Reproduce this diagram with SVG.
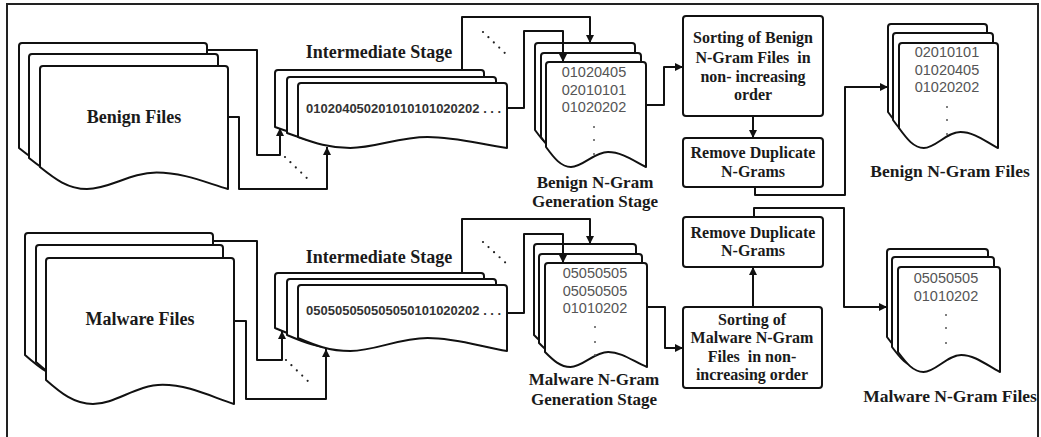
<svg xmlns="http://www.w3.org/2000/svg" width="1041" height="437" viewBox="0 0 1041 437">
  <style>
    .doc { fill: #fff; stroke: #111; stroke-width: 2; stroke-linejoin: round; }
    .box { fill: #fff; stroke: #111; stroke-width: 2; }
    .wire { fill: none; stroke: #111; stroke-width: 2; stroke-linejoin: round; }
    .dots { fill: none; stroke: #222; stroke-width: 2.2; stroke-linecap: round; stroke-dasharray: 0 7.5; }
    .lbl { font-family: "Liberation Serif", "Times New Roman", serif; font-weight: bold; fill: #1a1a1a; text-anchor: middle; white-space: pre; }
    .seq { font-family: "Liberation Sans", Arial, sans-serif; font-weight: bold; font-size: 13px; fill: #333; }
    .gram { font-family: "Liberation Sans", Arial, sans-serif; font-size: 14.5px; fill: #555; text-anchor: middle; }
    .pt { fill: #555; }
  </style>
  <defs>
    <marker id="arrow" viewBox="0 0 10 10" refX="10" refY="5" markerWidth="9" markerHeight="8" markerUnits="userSpaceOnUse" orient="auto">
      <path d="M0,0 L10,5 L0,10 Z" fill="#111"/>
    </marker>
  </defs>

  <!-- frame -->
  <rect x="7" y="4" width="1031" height="450" fill="#fff" stroke="#222" stroke-width="2"/>

  <!-- ===== benign branch ===== -->
  <g id="benign-files">
    <path class="doc" d="M19,46 Q19,43 22,43 H204 Q207,43 207,46 V170 C184.4,163.4 161.9,153.5 135.6,153.5 C109.2,153.5 88.6,170 66,170 C47.2,170 34,160.1 19,148 Z"/>
    <path class="doc" d="M29,57 Q29,54 32,54 H215 Q218,54 218,57 V180 C195.3,173.4 172.6,163.5 146.2,163.5 C119.7,163.5 98.9,180 76.3,180 C57.4,180 44.1,170.1 29,158 Z"/>
    <path class="doc" d="M40,69 Q40,66 43,66 H225 Q228,66 228,69 V189 C205.4,182.4 182.9,172.5 156.6,172.5 C130.2,172.5 109.6,189 87,189 C68.2,189 55,179.1 40,167 Z"/>
    <text class="lbl" x="134" y="123" font-size="18">Benign Files</text>
  </g>

  <g id="benign-intermediate">
    <path class="doc" d="M275,73 Q275,70 278,70 H481 Q484,70 484,73 V138 C458.9,134.7 433.8,127 404.6,127 C375.3,127 352.3,138 327.3,138 C306.4,138 291.7,133 275,127 Z"/>
    <path class="doc" d="M287,80 Q287,77 290,77 H493 Q496,77 496,80 V144 C470.9,140.7 445.8,133 416.6,133 C387.3,133 364.3,144 339.3,144 C318.4,144 303.7,139 287,133 Z"/>
    <path class="doc" d="M298,86 Q298,83 301,83 H504 Q507,83 507,86 V148 C481.9,144.7 456.8,137 427.6,137 C398.3,137 375.3,148 350.3,148 C329.4,148 314.7,143 298,137 Z"/>
    <text class="seq" x="306" y="113">010204050201010101020202 . . .</text>
    <text class="lbl" x="379" y="58" font-size="18">Intermediate Stage</text>
  </g>

  <g id="benign-ngram-stage">
    <path class="doc" d="M535,46 Q535,43 538,43 H632 Q635,43 635,46 V150 C623,144 611,135 597,135 C583,135 572,150 560,150 C550,150 543,141 535,130 Z"/>
    <path class="doc" d="M541,56 Q541,53 544,53 H638 Q641,53 641,56 V157 C629,151 617,142 603,142 C589,142 578,157 566,157 C556,157 549,148 541,137 Z"/>
    <path class="doc" d="M546,65 Q546,62 549,62 H643 Q646,62 646,65 V167 C634,161 622,152 608,152 C594,152 583,167 571,167 C561,167 554,158 546,147 Z"/>
    <text class="gram" x="594" y="77">01020405</text>
    <text class="gram" x="594" y="95">02010101</text>
    <text class="gram" x="594" y="112">01020202</text>
    <circle class="pt" cx="594" cy="127" r="1"/>
    <circle class="pt" cx="594" cy="140" r="1"/>
    <circle class="pt" cx="594" cy="154" r="1"/>
    <text class="lbl" x="595" y="188" font-size="17">Benign N-Gram</text>
    <text class="lbl" x="595" y="207" font-size="17">Generation Stage</text>
  </g>

  <g id="benign-sort">
    <rect class="box" x="683" y="16" width="140" height="100" rx="3"/>
    <text class="lbl" x="753" y="43" font-size="16">Sorting of Benign</text>
    <text class="lbl" x="753" y="62.5" font-size="16">N-Gram Files  in</text>
    <text class="lbl" x="753" y="81.5" font-size="16">non- increasing</text>
    <text class="lbl" x="753" y="100" font-size="16">order</text>
  </g>

  <g id="benign-dedup">
    <rect class="box" x="683" y="138" width="140" height="49" rx="3"/>
    <text class="lbl" x="753" y="158" font-size="16">Remove Duplicate</text>
    <text class="lbl" x="753" y="177" font-size="16">N-Grams</text>
  </g>

  <g id="benign-ngram-files">
    <path class="doc" d="M888,27 Q888,24 891,24 H984 Q987,24 987,27 V132 C975.1,126 963.2,116 949.4,116 C935.5,116 924.6,132 912.8,132 C902.9,132 895.9,123 888,112 Z"/>
    <path class="doc" d="M893,36 Q893,33 896,33 H990 Q993,33 993,36 V140 C981,134 969,124 955,124 C941,124 930,140 918,140 C908,140 901,131 893,120 Z"/>
    <path class="doc" d="M899,46 Q899,43 902,43 H995 Q998,43 998,46 V148 C986.1,142 974.2,132 960.4,132 C946.5,132 935.6,148 923.8,148 C913.9,148 906.9,139 899,128 Z"/>
    <text class="gram" x="947" y="57">02010101</text>
    <text class="gram" x="947" y="75">01020405</text>
    <text class="gram" x="947" y="92">01020202</text>
    <circle class="pt" cx="947" cy="107" r="1"/>
    <circle class="pt" cx="947" cy="120" r="1"/>
    <circle class="pt" cx="947" cy="134" r="1"/>
    <text class="lbl" x="950" y="177" font-size="17.5">Benign N-Gram Files</text>
  </g>

  <!-- ===== malware branch ===== -->
  <g id="malware-files">
    <path class="doc" d="M25,236 Q25,233 28,233 H210 Q213,233 213,236 V379 C190.4,371.8 167.9,359.8 141.6,359.8 C115.2,359.8 94.6,379 72,379 C53.2,379 40,368.2 25,355 Z"/>
    <path class="doc" d="M36,248 Q36,245 39,245 H220 Q223,245 223,248 V386 C200.6,378.8 178.1,366.8 151.9,366.8 C125.8,366.8 105.2,386 82.8,386 C64.1,386 51,375.2 36,362 Z"/>
    <path class="doc" d="M46,261 Q46,258 49,258 H231 Q234,258 234,261 V404 C211.4,396.8 188.9,384.8 162.6,384.8 C136.2,384.8 115.6,404 93,404 C74.2,404 61,393.2 46,380 Z"/>
    <text class="lbl" x="140" y="325" font-size="18">Malware Files</text>
  </g>

  <g id="malware-intermediate">
    <path class="doc" d="M275,276 Q275,273 278,273 H481 Q484,273 484,276 V341 C458.9,337.1 433.8,328 404.6,328 C375.3,328 352.3,341 327.3,341 C306.4,341 291.7,335.2 275,328 Z"/>
    <path class="doc" d="M287,282 Q287,279 290,279 H493 Q496,279 496,282 V348 C470.9,344.1 445.8,335 416.6,335 C387.3,335 364.3,348 339.3,348 C318.4,348 303.7,342.2 287,335 Z"/>
    <path class="doc" d="M298,288 Q298,285 301,285 H504 Q507,285 507,288 V351 C481.9,347.1 456.8,338 427.6,338 C398.3,338 375.3,351 350.3,351 C329.4,351 314.7,345.2 298,338 Z"/>
    <text class="seq" x="306" y="315">050505050505050101020202 . . .</text>
    <text class="lbl" x="379" y="263" font-size="18">Intermediate Stage</text>
  </g>

  <g id="malware-ngram-stage">
    <path class="doc" d="M534,247 Q534,244 537,244 H633 Q636,244 636,247 V350 C623.8,345.5 611.5,335 597.2,335 C583,335 571.7,350 559.5,350 C549.3,350 542.2,343.3 534,335 Z"/>
    <path class="doc" d="M539,257 Q539,254 542,254 H639 Q642,254 642,257 V358 C629.6,353.5 617.3,343 602.9,343 C588.4,343 577.1,358 564.8,358 C554.5,358 547.2,351.3 539,343 Z"/>
    <path class="doc" d="M545,266 Q545,263 548,263 H644 Q647,263 647,266 V367 C634.8,362.5 622.5,352 608.2,352 C594,352 582.7,367 570.5,367 C560.3,367 553.2,360.3 545,352 Z"/>
    <text class="gram" x="595" y="278">05050505</text>
    <text class="gram" x="595" y="296">05050505</text>
    <text class="gram" x="595" y="313">01010202</text>
    <circle class="pt" cx="595" cy="327" r="1"/>
    <circle class="pt" cx="595" cy="342" r="1"/>
    <circle class="pt" cx="595" cy="355" r="1"/>
    <text class="lbl" x="594" y="385" font-size="17">Malware N-Gram</text>
    <text class="lbl" x="594" y="405" font-size="17">Generation Stage</text>
  </g>

  <g id="malware-dedup">
    <rect class="box" x="683" y="217" width="140" height="50" rx="3"/>
    <text class="lbl" x="753" y="238" font-size="16">Remove Duplicate</text>
    <text class="lbl" x="753" y="256" font-size="16">N-Grams</text>
  </g>

  <g id="malware-sort">
    <rect class="box" x="683" y="307" width="139" height="81" rx="3"/>
    <text class="lbl" x="752" y="325" font-size="16">Sorting of</text>
    <text class="lbl" x="752" y="343" font-size="16">Malware N-Gram</text>
    <text class="lbl" x="752" y="362" font-size="16">Files  in non-</text>
    <text class="lbl" x="752" y="380" font-size="16">increasing order</text>
  </g>

  <g id="malware-ngram-files">
    <path class="doc" d="M887,252 Q887,249 890,249 H985 Q988,249 988,252 V357 C975.9,351 963.8,340 949.6,340 C935.5,340 924.4,357 912.3,357 C902.2,357 895.1,348 887,337 Z"/>
    <path class="doc" d="M892,260 Q892,257 895,257 H991 Q994,257 994,260 V367 C981.8,361 969.5,350 955.2,350 C941,350 929.7,367 917.5,367 C907.3,367 900.2,358 892,347 Z"/>
    <path class="doc" d="M898,270 Q898,267 901,267 H997 Q1000,267 1000,270 V372 C987.8,366 975.5,355 961.2,355 C947,355 935.7,372 923.5,372 C913.3,372 906.2,363 898,352 Z"/>
    <text class="gram" x="946" y="283">05050505</text>
    <text class="gram" x="946" y="301">01010202</text>
    <circle class="pt" cx="946" cy="315" r="1"/>
    <circle class="pt" cx="946" cy="328" r="1"/>
    <circle class="pt" cx="946" cy="343" r="1"/>
    <text class="lbl" x="950" y="402" font-size="17.5">Malware N-Gram Files</text>
  </g>

  <!-- ===== connectors ===== -->
  <g id="connectors">
    <!-- benign -->
    <path class="wire" d="M207,50 H257 V155 H280 V128" marker-end="url(#arrow)"/>
    <path class="wire" d="M228,117 H239 V189 H327 V147" marker-end="url(#arrow)"/>
    <path class="dots" d="M285,157 L312,183"/>
    <path class="wire" d="M507,108 H524 V31 H563 V62" marker-end="url(#arrow)"/>
    <path class="wire" d="M462,70 V17 H590 V43" marker-end="url(#arrow)"/>
    <path class="dots" d="M483,32 L508,56"/>
    <path class="wire" d="M646,105 H664 V67 H683" marker-end="url(#arrow)"/>
    <path class="wire" d="M753,116 V138" marker-end="url(#arrow)"/>
    <path class="wire" d="M755,187 V195 H845 V87 H888" marker-end="url(#arrow)"/>
    <!-- malware -->
    <path class="wire" d="M213,241 H257 V360 H282 V331" marker-end="url(#arrow)"/>
    <path class="wire" d="M234,321 H246 V399 H326 V349" marker-end="url(#arrow)"/>
    <path class="dots" d="M286,360 L312,385"/>
    <path class="wire" d="M507,313 H524 V234 H563 V263" marker-end="url(#arrow)"/>
    <path class="wire" d="M462,273 V219 H590 V244" marker-end="url(#arrow)"/>
    <path class="dots" d="M483,242 L508,265"/>
    <path class="wire" d="M647,307 H665 V348 H683" marker-end="url(#arrow)"/>
    <path class="wire" d="M753,307 V267" marker-end="url(#arrow)"/>
    <path class="wire" d="M754,217 V208 H844 V307 H887" marker-end="url(#arrow)"/>
  </g>
</svg>
